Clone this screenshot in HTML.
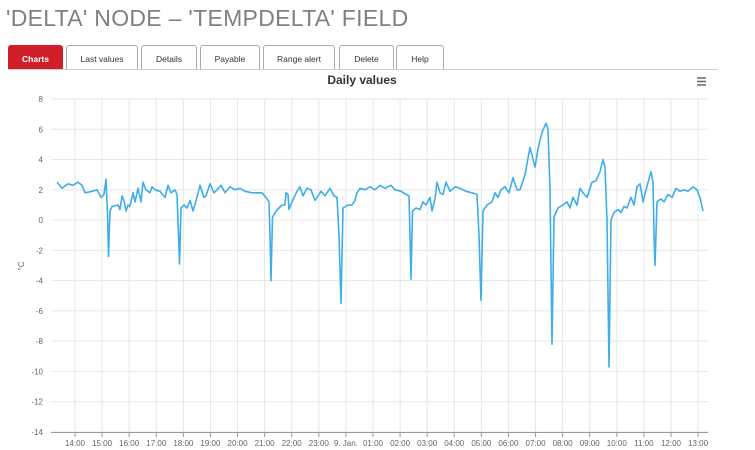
<!DOCTYPE html>
<html><head><meta charset="utf-8"><style>
body{margin:0;width:755px;height:450px;background:#fff;font-family:"Liberation Sans",sans-serif;overflow:hidden;position:relative}
.t{position:absolute;left:6px;top:5px;font-size:23px;color:#808080;font-weight:300;letter-spacing:0.3px}
.tab{position:absolute;top:45px;height:24px;border:1px solid #aaa;border-bottom:none;border-radius:3px 3px 0 0;box-sizing:border-box;font-size:8.5px;color:#333;text-align:center;line-height:26px;background:#fff}
.tab.a{background:#d01f2a;color:#fff;border-color:#d01f2a;font-weight:bold}
.ln{position:absolute;left:8px;top:69px;width:709px;height:1px;background:#ccc}
</style></head><body>
<div class="t">'DELTA' NODE – 'TEMPDELTA' FIELD</div>
<div class="tab a" style="left:8px;width:55px">Charts</div>
<div class="tab" style="left:66px;width:72px">Last values</div>
<div class="tab" style="left:141px;width:56px">Details</div>
<div class="tab" style="left:200px;width:60px">Payable</div>
<div class="tab" style="left:263px;width:72px">Range alert</div>
<div class="tab" style="left:339px;width:55px">Delete</div>
<div class="tab" style="left:396px;width:48px">Help</div>
<div class="ln"></div>
<svg id="s" width="755" height="450" style="position:absolute;left:0;top:0" font-family="Liberation Sans, sans-serif"></svg>
<script>
var s=document.getElementById('s'),h='';
function Y(v){return 99+(8-v)*15.136;}
for(var v=8;v>=-14;v-=2){var y=Y(v);h+='<line x1="51" x2="708" y1="'+y+'" y2="'+y+'" stroke="#e6e6e6"/>';h+='<text x="43" y="'+(y+3)+'" font-size="8" fill="#666" text-anchor="end">'+v+'</text>';}
var L=['14:00','15:00','16:00','17:00','18:00','19:00','20:00','21:00','22:00','23:00','9. Jan.','01:00','02:00','03:00','04:00','05:00','06:00','07:00','08:00','09:00','10:00','11:00','12:00','13:00'];
for(var i=0;i<L.length;i++){var x=75+i*27.09;h+='<line x1="'+x+'" x2="'+x+'" y1="99" y2="432" stroke="#e6e6e6"/><line x1="'+x+'" x2="'+x+'" y1="432" y2="437" stroke="#999"/><text x="'+x+'" y="446" font-size="8" fill="#666" text-anchor="middle">'+L[i]+'</text>';}
h+='<line x1="51" x2="708" y1="432.5" y2="432.5" stroke="#999"/>';
var d=[57,2.5,62,2.1,68,2.4,73,2.3,78,2.5,82,2.3,85,1.8,92,1.9,97,2.0,101,1.5,104,1.7,106,2.7,107.5,0.5,108.5,-2.4,110,0.6,112,0.9,118,1.0,120,0.7,122,1.6,124,1.3,126,0.6,128,1.0,130,0.9,133,1.8,135,1.2,138,2.1,141,1.2,143,2.5,146,2.0,150,1.8,152,2.2,155,2.0,160,1.9,165,1.5,168,2.3,171,1.8,175,2.0,177,1.7,178.5,-1,179.5,-2.9,181,0.8,184,1.0,187,0.8,190,1.3,193,0.6,197,1.5,200,2.3,204,1.5,206,1.6,210,2.4,214,1.8,217,2.0,221,2.3,225,1.8,230,2.2,235,2.0,240,2.1,245,1.9,252,1.8,262,1.8,266,1.5,269,1.2,270,-1,271,-4,272.5,0.2,276,0.6,282,1.0,285,1.0,286,1.8,288,1.7,289,0.7,292,1.2,297,1.9,300,2.2,303,1.6,307,2.1,311,2.0,315,1.3,318,1.6,321,1.9,325,1.6,330,2.1,334,1.6,337,1.5,339,-1,341,-5.5,343,0.8,348,1.0,352,1.0,355,1.3,357,1.8,360,2.1,365,2.0,370,2.2,375,2.0,380,2.3,385,2.1,391,2.3,395,2.0,401,1.9,406,1.7,409,1.6,410,-1,411,-3.9,412.5,0.6,416,0.8,420,0.7,423,1.2,426,1.0,430,1.5,432,0.6,435,1.4,437,2.5,440,1.8,443,1.7,446,2.5,450,1.9,455,2.2,460,2.1,466,1.9,472,1.8,477,1.7,479,-1,481,-5.3,483,0.6,487,1.0,492,1.2,495,1.8,498,1.5,501,2.0,505,2.2,509,1.8,513,2.8,517,2.0,520,2.0,525,3.0,530,4.8,535,3.5,538,4.7,542,5.8,546,6.4,548,6.0,550,2,552,-8.2,554,0.2,558,0.8,563,1.0,567,1.2,570,0.8,573,1.5,577,1.0,580,2.1,583,1.8,587,1.5,592,2.5,596,2.6,600,3.2,603,4.0,605,3.5,607,0,609,-9.7,611,0,614,0.5,618,0.7,621,0.5,624,0.9,627,0.8,631,1.5,634,1.0,637,2.2,640,2.4,643,1.2,646,2.0,651,3.2,653,2.5,654,-1,655,-3.0,657,1.2,661,1.4,664,1.2,668,1.7,672,1.5,676,2.1,680,1.9,684,2.0,688,1.9,693,2.2,697,2.0,700,1.5,703,0.6];
var p='';for(var i=0;i<d.length;i+=2)p+=(i?'L':'M')+d[i]+','+Y(d[i+1]).toFixed(1);
h+='<path d="'+p+'" fill="none" stroke="#3daee9" stroke-width="1.6" stroke-linejoin="round"/>';
h+='<text x="362" y="84" font-size="12" font-weight="bold" fill="#333" text-anchor="middle">Daily values</text>';
h+='<g stroke="#666" stroke-width="1.5"><line x1="697" x2="706" y1="78" y2="78"/><line x1="697" x2="706" y1="81.5" y2="81.5"/><line x1="697" x2="706" y1="85" y2="85"/></g>';
h+='<text transform="translate(24,266) rotate(-90)" font-size="8" fill="#666" text-anchor="middle">°C</text>';
s.innerHTML=h;
</script>
</body></html>
